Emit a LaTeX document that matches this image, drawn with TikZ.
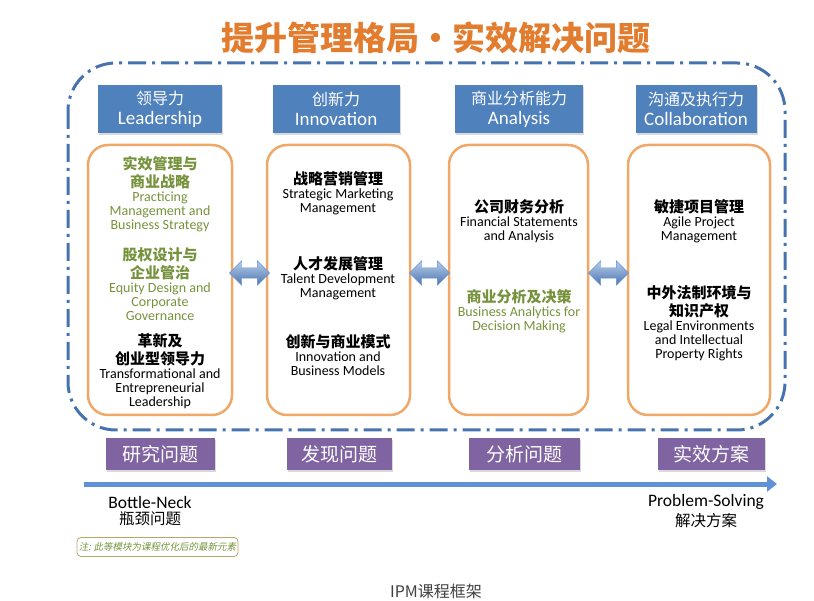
\documentclass[tikz,border=0pt]{standalone}
\usepackage{fontspec}
\setmainfont{Carlito}
\newfontfamily\cjk{Noto Sans CJK SC}
\newfontfamily\cjkit[FakeSlant=0.2]{Noto Sans CJK SC}
\usepackage{xcolor}
\usepackage{tikz}
\usetikzlibrary{arrows.meta,positioning,shapes.arrows,shadows}
\definecolor{headblue}{RGB}{79,129,189}
\definecolor{frameblue}{RGB}{70,115,175}
\definecolor{boxorange}{RGB}{240,168,105}
\definecolor{purp}{RGB}{128,100,162}
\definecolor{itemgreen}{RGB}{118,146,60}
\definecolor{titleorange}{RGB}{226,125,48}
\definecolor{arrowblue}{RGB}{95,145,215}
\definecolor{notetan}{RGB}{185,165,105}

\begin{document}
\begin{tikzpicture}[x=1pt,y=-1pt,
  head/.style={fill=headblue, text=white, minimum height=48, inner sep=0pt, align=center,
    font=\fontsize{19}{20}\selectfont, drop shadow={shadow xshift=1pt, shadow yshift=-2pt, opacity=0.3}},
  modbox/.style={draw=boxorange, line width=2.5pt, rounded corners=20, minimum height=270},
  cn/.style={font=\cjk\bfseries\fontsize{15}{18}\selectfont, align=center, inner sep=0pt},
  en/.style={font=\fontsize{14}{14}\selectfont, align=center, inner sep=0pt},
  link/.style={double arrow, double arrow head extend=7pt, minimum height=40, inner sep=5pt,
    top color=arrowblue!45!white, bottom color=arrowblue!80!black, draw=arrowblue},
  stage/.style={fill=purp, text=white, minimum height=32, inner sep=0pt,
    font=\cjk\fontsize{19}{20}\selectfont, drop shadow={shadow xshift=1pt, shadow yshift=-2pt, opacity=0.3}},
  endlbl/.style={font=\fontsize{17.5}{19}\selectfont, inner sep=0pt}]
  \useasboundingbox (0,0) rectangle (814,601);
  \node[font=\cjk\bfseries\fontsize{33}{36}\selectfont, text=titleorange] (title) at (436,38) {提升管理格局・实效解决问题};
  \draw[frameblue, line width=3pt, dash pattern=on 18pt off 6pt on 3pt off 6pt, rounded corners=48] (68,63) rectangle (785,430);
  \node[head, minimum width=124] (h1) at (160,109) {{\cjk\fontsize{16}{20}\selectfont 领导力}\\Leadership};
  \node[head, minimum width=127] (h2) at (336,109) {{\cjk\fontsize{16}{20}\selectfont 创新力}\\Innovation};
  \node[head, minimum width=128] (h3) at (519,109) {{\cjk\fontsize{16}{20}\selectfont 商业分析能力}\\Analysis};
  \node[head, minimum width=121] (h4) at (696,109) {{\cjk\fontsize{16}{20}\selectfont 沟通及执行力}\\Collaboration};
  \node[modbox, minimum width=144] (o1) at (160,280) {};
  \node[modbox, minimum width=143] (o2) at (338.5,280) {};
  \node[modbox, minimum width=139] (o3) at (518.5,280) {};
  \node[modbox, minimum width=142] (o4) at (699,280) {};
  \node[link] (a1) at (249.5,273) {};
  \node[link] (a2) at (429.5,273) {};
  \node[link] (a3) at (608.5,273) {};
  % leadership
  \node[cn, text=itemgreen, anchor=north] (c11) at (160,156) {实效管理与\\商业战略};
  \node[en, text=itemgreen, below=3pt of c11] (e11) {Practicing\\Management and\\Business Strategy};
  \node[cn, text=itemgreen, anchor=north] (c12) at (160,247) {股权设计与\\企业管治};
  \node[en, text=itemgreen, below=3pt of c12] (e12) {Equity Design and\\Corporate\\Governance};
  \node[cn, anchor=north] (c13) at (160,333) {革新及\\创业型领导力};
  \node[en, below=3pt of c13] (e13) {Transformational and\\Entrepreneurial\\Leadership};
  % innovation
  \node[cn, anchor=north] (c21) at (338,171) {战略营销管理};
  \node[en, below=3pt of c21] (e21) {Strategic Marketing\\Management};
  \node[cn, anchor=north] (c22) at (338,256) {人才发展管理};
  \node[en, below=3pt of c22] (e22) {Talent Development\\Management};
  \node[cn, anchor=north] (c23) at (338,334) {创新与商业模式};
  \node[en, below=3pt of c23] (e23) {Innovation and\\Business Models};
  % analysis
  \node[cn, anchor=north] (c31) at (519,199) {公司财务分析};
  \node[en, below=3pt of c31] (e31) {Financial Statements\\and Analysis};
  \node[cn, text=itemgreen, anchor=north] (c32) at (519,289) {商业分析及决策};
  \node[en, text=itemgreen, below=3pt of c32] (e32) {Business Analytics for\\Decision Making};
  % collaboration
  \node[cn, anchor=north] (c41) at (699,199) {敏捷项目管理};
  \node[en, below=3pt of c41] (e41) {Agile Project\\Management};
  \node[cn, anchor=north] (c42) at (699,285) {中外法制环境与\\知识产权};
  \node[en, below=3pt of c42] (e42) {Legal Environments\\and Intellectual\\Property Rights};
  \node[stage, minimum width=109] (p1) at (160.5,454) {研究问题};
  \node[stage, minimum width=105] (p2) at (339.5,454) {发现问题};
  \node[stage, minimum width=111] (p3) at (524.5,454) {分析问题};
  \node[stage, minimum width=107] (p4) at (711.5,454) {实效方案};
  \coordinate (s) at (84,484);
  \coordinate (t) at (777,484);
  \draw[arrowblue, line width=5pt, -{Triangle[length=10pt,width=15pt]}] (s) -- (t);
  \node[endlbl] (bn) at (150,502) {Bottle-Neck};
  \node[endlbl, font=\cjk\fontsize{15.5}{17}\selectfont, below=3pt of bn] (bnc) {瓶颈问题};
  \node[endlbl] (ps) at (706,502) {Problem-Solving};
  \node[endlbl, font=\cjk\fontsize{15.5}{17}\selectfont, below=3pt of ps] (psc) {解决方案};
  \node[draw=notetan, line width=0.8pt, rounded corners=4, minimum width=161, minimum height=19, inner sep=0pt,
    text=itemgreen, font=\cjkit\fontsize{9.5}{11}\selectfont] (note) at (157.5,547) {注: 此等模块为课程优化后的最新元素};
  \node[text=black!75, font=\cjk\fontsize{16}{18}\selectfont] (cap) at (436,591) {IPM课程框架};
\end{tikzpicture}
\end{document}
